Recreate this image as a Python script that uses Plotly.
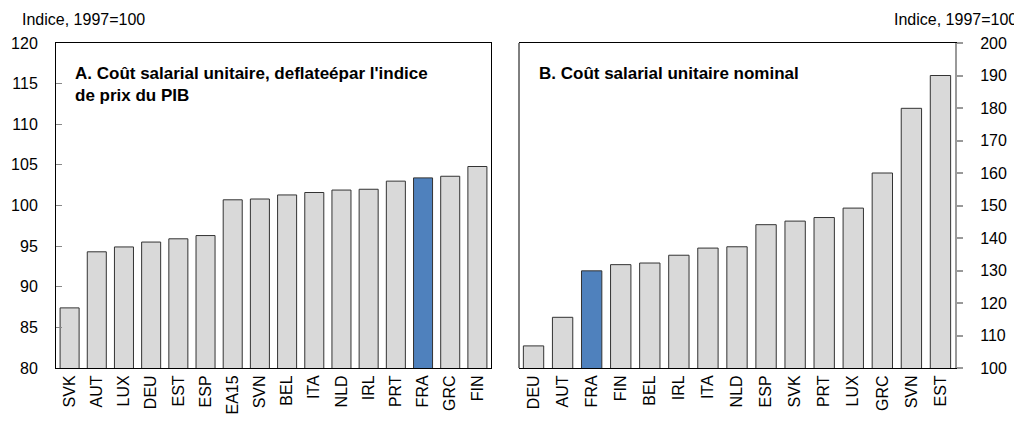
import plotly.graph_objects as go

# Panel A data
cats_a = ["SVK", "AUT", "LUX", "DEU", "EST", "ESP", "EA15", "SVN", "BEL", "ITA",
          "NLD", "IRL", "PRT", "FRA", "GRC", "FIN"]
vals_a = [87.4, 94.3, 94.9, 95.5, 95.9, 96.3, 100.7, 100.8, 101.3, 101.6,
          101.9, 102.0, 103.0, 103.4, 103.6, 104.8]

# Panel B data
cats_b = ["DEU", "AUT", "FRA", "FIN", "BEL", "IRL", "ITA", "NLD", "ESP", "SVK",
          "PRT", "LUX", "GRC", "SVN", "EST"]
vals_b = [106.8, 115.6, 129.9, 131.8, 132.3, 134.7, 136.9, 137.3, 144.1, 145.2,
          146.3, 149.2, 160.0, 179.9, 190.0]

highlight = "FRA"
GREY = "#D9D9D9"
BLUE = "#4F81BD"
OFF = 8  # page body margin
W, H = 1022 - OFF, 422 - OFF


def px(x):
    return (x - OFF) / W


def py(y):
    return 1 - (y - OFF) / H


def colors(cats):
    return [BLUE if c == highlight else GREY for c in cats]


fig = go.Figure()
fig.add_trace(go.Bar(x=cats_a, y=vals_a, marker=dict(color=colors(cats_a),
                     line=dict(color="#333333", width=1)), xaxis="x", yaxis="y",
                     showlegend=False))
fig.add_trace(go.Bar(x=cats_b, y=vals_b, marker=dict(color=colors(cats_b),
                     line=dict(color="#333333", width=1)), xaxis="x2", yaxis="y2",
                     showlegend=False))

ytop = py(43)
ybot = py(368)
ytickfont = dict(family="Liberation Sans, Arial", size=16, color="#000")
xtickfont = dict(family="Liberation Sans, Arial", size=16, color="#000")
txtfont = dict(family="Liberation Sans, Arial", size=16, color="#000")

fig.update_layout(
    width=W, height=H, template="none",
    margin=dict(l=0, r=0, t=0, b=0),
    paper_bgcolor="white", plot_bgcolor="white",
    bargap=0.3,
    xaxis=dict(domain=[px(56), px(491)], anchor="y", showline=True, linecolor="#000",
               linewidth=1, mirror=True, ticks="", tickangle=-90, tickfont=xtickfont,
               showgrid=False, automargin=False, fixedrange=True),
    yaxis=dict(domain=[ybot, ytop], anchor="x", range=[80, 120], dtick=5,
               showline=True, linecolor="#000", linewidth=1, mirror=True,
               ticks="inside", ticklen=6, tickcolor="#888", tickwidth=1,
               tickfont=ytickfont, ticklabelstandoff=14, showgrid=False,
               zeroline=False, automargin=False),
    xaxis2=dict(domain=[px(519), px(955)], anchor="y2", showline=True, linecolor="#000",
                linewidth=1, mirror=True, ticks="", tickangle=-90, tickfont=xtickfont,
                showgrid=False, automargin=False),
    yaxis2=dict(domain=[ybot, ytop], anchor="x2", side="right", range=[100, 200], dtick=10,
                showline=True, linecolor="#999", linewidth=2, mirror=False,
                ticks="outside", ticklen=6, tickcolor="#999", tickwidth=2,
                tickfont=ytickfont, ticklabelstandoff=14, showgrid=False,
                zeroline=False, automargin=False),
    shapes=[dict(type="line", xref="x2 domain", yref="y2 domain", x0=0, x1=0, y0=0, y1=1,
                 line=dict(color="#000", width=1))],
    annotations=[
        dict(text="Indice, 1997=100", xref="paper", yref="paper", x=px(20), y=py(9),
             xanchor="left", yanchor="top", showarrow=False, font=txtfont),
        dict(text="Indice, 1997=100", xref="paper", yref="paper", x=px(1019), y=py(9),
             xanchor="right", yanchor="top", showarrow=False, font=txtfont),
        dict(text="<b>A. Coût salarial unitaire, deflateépar l'indice<br>de prix du PIB</b>",
             xref="paper", yref="paper", x=px(73), y=py(62),
             xanchor="left", yanchor="top", align="left", showarrow=False,
             font=dict(family="Liberation Sans, Arial", size=17, color="#000")),
        dict(text="<b>B. Coût salarial unitaire nominal</b>",
             xref="paper", yref="paper", x=px(537), y=py(62),
             xanchor="left", yanchor="top", align="left", showarrow=False,
             font=dict(family="Liberation Sans, Arial", size=17, color="#000")),
    ],
)

fig.write_html("out.html")
